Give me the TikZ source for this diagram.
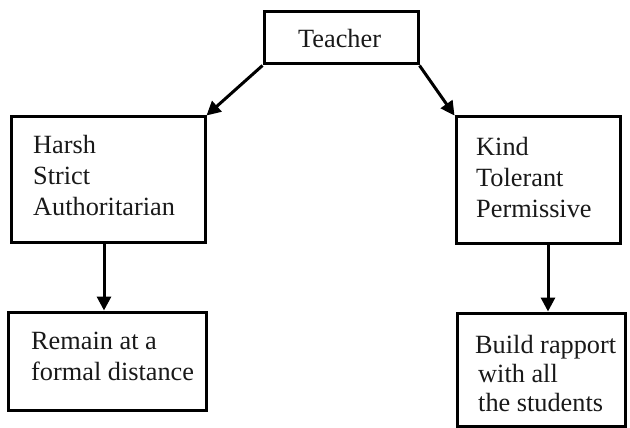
\documentclass[tikz,border=0pt]{standalone}
\usepackage{fontspec}
\setmainfont{Liberation Serif}
\usetikzlibrary{arrows.meta}
\begin{document}
\begin{tikzpicture}[x=1pt,y=-1pt,
  box/.style={draw=black,line width=3pt,fill=white,inner sep=0pt},
  lbl/.style={anchor=north west,inner sep=0pt,align=left,text=black!90,font=\fontsize{26.3}{31}\selectfont},
  arr/.style={line width=3pt,-{Triangle[length=14pt,width=14pt]}}]
\useasboundingbox[fill=white] (0,0) rectangle (630,428);
% boxes
\node[box,minimum width=154pt,minimum height=52pt] (teacher) at (341,38) {};
\node[box,minimum width=194pt,minimum height=125pt] (harsh) at (108,179.5) {};
\node[box,minimum width=164pt,minimum height=126pt] (kind) at (538,180) {};
\node[box,minimum width=198pt,minimum height=98pt] (remain) at (107,361) {};
\node[box,minimum width=168pt,minimum height=113pt] (build) at (541,369.5) {};
% texts
\node[lbl] (tteacher) at (298,29.5) {Teacher};
\node[lbl] (tharsh) at (33,135) {Harsh\\Strict\\Authoritarian};
\node[lbl] (tkind) at (476,137) {Kind\\Tolerant\\Permissive};
\node[lbl] (tremain) at (31,332) {Remain at a\\formal distance};
\node[lbl,font=\fontsize{26.3}{29}\selectfont] (tbuild) at (475,335) {Build rapport\\\hspace*{3pt}with all\\\hspace*{3pt}the students};
% arrows
\draw[arr] (teacher.south west) -- (harsh.north east);
\draw[arr] (teacher.south east) -- (kind.north west);
\draw[arr] ([xshift=-4pt]harsh.south) -- ([xshift=-4pt]harsh.south |- remain.north);
\draw[arr] ([xshift=10pt]kind.south) -- ([xshift=10pt]kind.south |- build.north);
\end{tikzpicture}
\end{document}
